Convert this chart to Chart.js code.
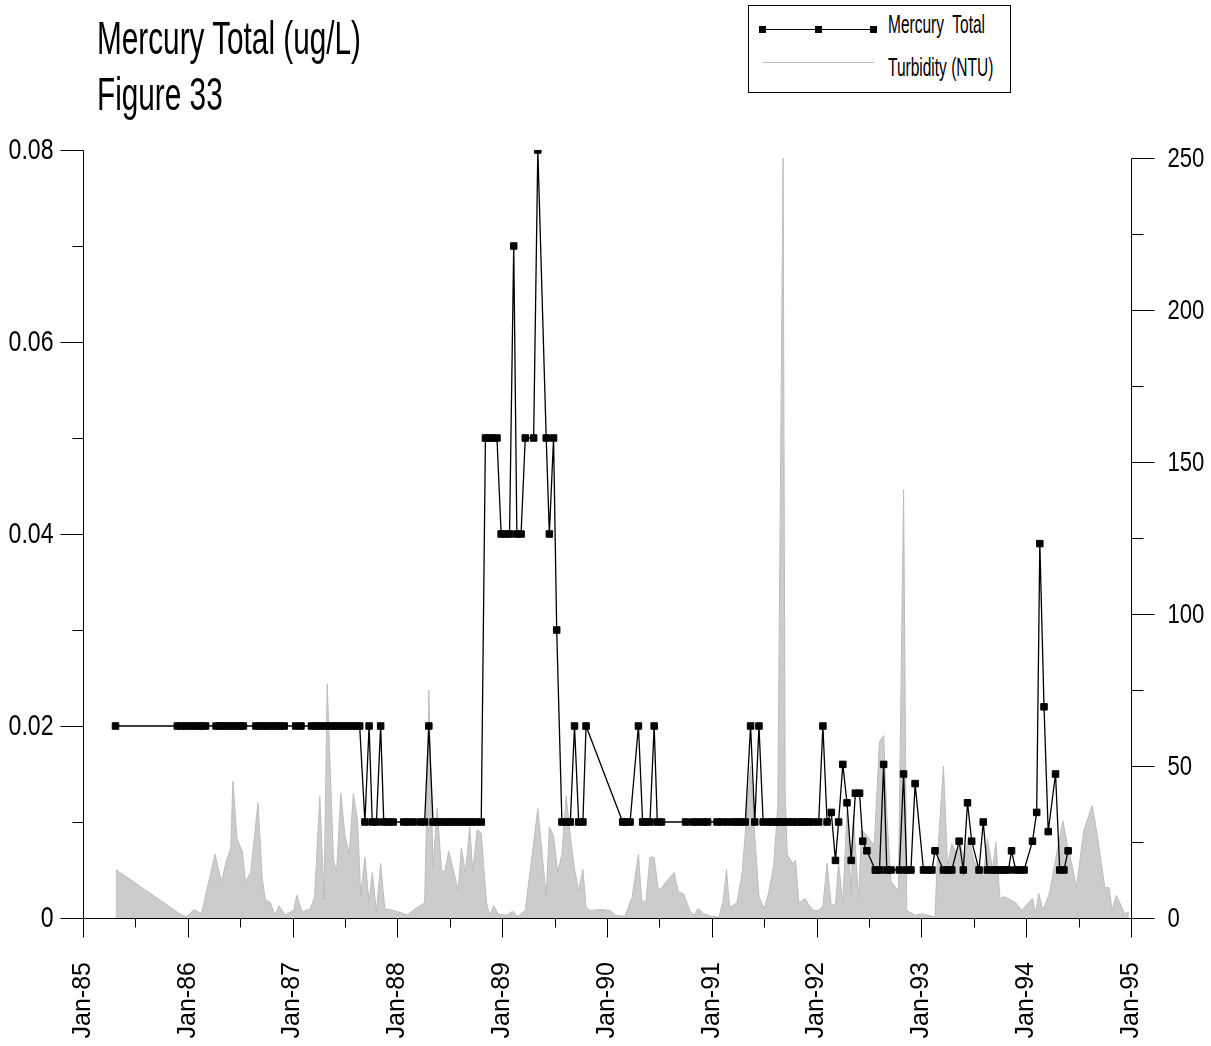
<!DOCTYPE html>
<html lang="en">
<head>
  <meta charset="UTF-8">
  <title>Mercury Total (ug/L) - Figure 33</title>
  <script src="https://cdn.jsdelivr.net/npm/chart.js"></script>
  <style>
    body { margin: 0; background: #fff; font-family: 'Liberation Sans', Arial, sans-serif; color: #000; }
    #wrap { position: relative; width: 1211px; height: 1046px; overflow: hidden; }
    canvas { position: absolute; left: 0; top: 0; }
    .title { position: absolute; left: 97px; top: 10px; font-size: 47px; line-height: 56px; white-space: nowrap; transform: scaleX(0.633); transform-origin: 0 0; }
    #legend { position: absolute; left: 748px; top: 5px; width: 263px; height: 88px; border: 1px solid #000; box-sizing: border-box; background: #fff; }
    #legend .ln { position: absolute; left: 14px; width: 111px; height: 0; }
    #legend .hg { top: 23px; border-top: 1.5px solid #000; }
    #legend .tb { top: 56px; border-top: 1px solid #bdbdbd; }
    #legend .sq { position: absolute; top: 20px; width: 7px; height: 7px; background: #000; }
    #legend .txt { position: absolute; left: 139px; font-size: 25px; line-height: 25px; white-space: nowrap; transform: scaleX(0.62); transform-origin: 0 0; }
  </style>
</head>
<body>
<div id="wrap">
  <canvas id="chart" width="1211" height="1046"></canvas>
  <div class="title">Mercury Total (ug/L)<br>Figure 33</div>
  <div id="legend">
    <div class="ln hg"></div>
    <div class="sq" style="left:10px"></div>
    <div class="sq" style="left:66px"></div>
    <div class="sq" style="left:121px"></div>
    <div class="txt" style="top:6px">Mercury&nbsp; Total</div>
    <div class="ln tb"></div>
    <div class="txt" style="top:49px">Turbidity (NTU)</div>
  </div>
</div>

<script>
  // sample dates as decimal years
  const hgDates = [
    1985.31,
    1985.90, 1985.94, 1985.98, 1986.02, 1986.06, 1986.10, 1986.13, 1986.17,
    1986.27, 1986.31, 1986.34, 1986.38, 1986.42, 1986.46, 1986.50, 1986.53,
    1986.65, 1986.69, 1986.73, 1986.76, 1986.80, 1986.84, 1986.88, 1986.92,
    1987.03, 1987.08,
    1987.18, 1987.22, 1987.26, 1987.30, 1987.34, 1987.38, 1987.41, 1987.45, 1987.49, 1987.53, 1987.57, 1987.60, 1987.64,
    1987.69, 1987.73, 1987.76, 1987.80, 1987.84, 1987.87, 1987.91, 1987.96,
    1988.06, 1988.10, 1988.15, 1988.22, 1988.26, 1988.30, 1988.34,
    1988.37, 1988.41, 1988.45, 1988.48, 1988.52, 1988.56, 1988.60, 1988.64, 1988.67, 1988.71, 1988.75, 1988.80,
    1988.84, 1988.87, 1988.91, 1988.95,
    1988.99, 1989.03, 1989.07, 1989.11, 1989.14, 1989.18, 1989.22, 1989.30, 1989.34, 1989.42, 1989.45, 1989.49, 1989.52,
    1989.57, 1989.61, 1989.65, 1989.69, 1989.73, 1989.77, 1989.80,
    1990.15, 1990.18, 1990.22, 1990.30, 1990.34, 1990.37, 1990.41, 1990.45, 1990.48, 1990.52,
    1990.75, 1990.82, 1990.87, 1990.92, 1990.96,
    1991.05, 1991.10, 1991.15, 1991.21, 1991.24, 1991.28, 1991.32, 1991.37, 1991.41, 1991.45, 1991.49,
    1991.54, 1991.58, 1991.62, 1991.65, 1991.69, 1991.73, 1991.77, 1991.81, 1991.85, 1991.88, 1991.92, 1991.96,
    1992.02, 1992.06, 1992.10, 1992.14, 1992.18, 1992.21, 1992.25, 1992.29, 1992.33, 1992.37, 1992.41, 1992.44, 1992.48,
    1992.56, 1992.60, 1992.64, 1992.67, 1992.71, 1992.79, 1992.83, 1992.86, 1992.90, 1992.94,
    1993.02, 1993.06, 1993.10, 1993.13, 1993.21, 1993.25, 1993.29, 1993.36, 1993.40, 1993.44, 1993.48,
    1993.55, 1993.59, 1993.63, 1993.68, 1993.72, 1993.76, 1993.79, 1993.83, 1993.86, 1993.90, 1993.94, 1993.98,
    1994.06, 1994.10, 1994.13, 1994.17, 1994.21, 1994.28, 1994.32, 1994.36, 1994.40
  ];
  const hgValues = [
    0.02,
    0.02, 0.02, 0.02, 0.02, 0.02, 0.02, 0.02, 0.02,
    0.02, 0.02, 0.02, 0.02, 0.02, 0.02, 0.02, 0.02,
    0.02, 0.02, 0.02, 0.02, 0.02, 0.02, 0.02, 0.02,
    0.02, 0.02,
    0.02, 0.02, 0.02, 0.02, 0.02, 0.02, 0.02, 0.02, 0.02, 0.02, 0.02, 0.02, 0.02,
    0.01, 0.02, 0.01, 0.01, 0.02, 0.01, 0.01, 0.01,
    0.01, 0.01, 0.01, 0.01, 0.01, 0.02, 0.01,
    0.01, 0.01, 0.01, 0.01, 0.01, 0.01, 0.01, 0.01, 0.01, 0.01, 0.01, 0.01,
    0.05, 0.05, 0.05, 0.05,
    0.04, 0.04, 0.04, 0.07, 0.04, 0.04, 0.05, 0.05, 0.08, 0.05, 0.04, 0.05, 0.03,
    0.01, 0.01, 0.01, 0.02, 0.01, 0.01, 0.02,
    0.01, 0.01, 0.01, 0.02, 0.01, 0.01, 0.01, 0.02, 0.01, 0.01,
    0.01, 0.01, 0.01, 0.01, 0.01,
    0.01, 0.01, 0.01, 0.01, 0.01, 0.01, 0.01, 0.02, 0.01, 0.02, 0.01,
    0.01, 0.01, 0.01, 0.01, 0.01, 0.01, 0.01, 0.01, 0.01, 0.01, 0.01, 0.01,
    0.01, 0.02, 0.01, 0.011, 0.006, 0.01, 0.016, 0.012, 0.006, 0.013, 0.013, 0.008, 0.007,
    0.005, 0.005, 0.016, 0.005, 0.005, 0.005, 0.015, 0.005, 0.005, 0.014,
    0.005, 0.005, 0.005, 0.007, 0.005, 0.005, 0.005, 0.008, 0.005, 0.012, 0.008,
    0.005, 0.01, 0.005, 0.005, 0.005, 0.005, 0.005, 0.005, 0.007, 0.005, 0.005, 0.005,
    0.008, 0.011, 0.039, 0.022, 0.009, 0.015, 0.005, 0.005, 0.007
  ];

  const turbDates = [
    1985.31, 1985.94, 1985.99, 1986.06, 1986.13, 1986.26, 1986.32, 1986.37, 1986.41, 1986.43,
    1986.47, 1986.52, 1986.55, 1986.60, 1986.67, 1986.71, 1986.74, 1986.79, 1986.83, 1986.87,
    1986.93, 1987.01, 1987.04, 1987.09, 1987.17, 1987.21, 1987.26, 1987.30, 1987.33, 1987.39,
    1987.42, 1987.46, 1987.50, 1987.54, 1987.58, 1987.62, 1987.65, 1987.69, 1987.73, 1987.76,
    1987.80, 1987.84, 1987.88, 1987.96, 1988.10, 1988.15, 1988.26, 1988.28, 1988.30, 1988.34,
    1988.38, 1988.42, 1988.45, 1988.49, 1988.58, 1988.61, 1988.65, 1988.69, 1988.72, 1988.76,
    1988.80, 1988.85, 1988.88, 1988.92, 1988.96, 1989.04, 1989.10, 1989.15, 1989.22, 1989.34,
    1989.42, 1989.45, 1989.49, 1989.53, 1989.57, 1989.61, 1989.65, 1989.69, 1989.73, 1989.77,
    1989.80, 1989.84, 1989.94, 1990.03, 1990.08, 1990.17, 1990.24, 1990.30, 1990.33, 1990.37,
    1990.41, 1990.45, 1990.49, 1990.52, 1990.64, 1990.68, 1990.73, 1990.79, 1990.83, 1990.87,
    1990.92, 1991.00, 1991.07, 1991.11, 1991.14, 1991.17, 1991.24, 1991.29, 1991.34, 1991.37,
    1991.41, 1991.45, 1991.50, 1991.54, 1991.59, 1991.63, 1991.68, 1991.70, 1991.72, 1991.77,
    1991.80, 1991.83, 1991.89, 1991.92, 1991.97, 1992.02, 1992.06, 1992.10, 1992.14, 1992.18,
    1992.21, 1992.25, 1992.29, 1992.33, 1992.35, 1992.40, 1992.43, 1992.48, 1992.55, 1992.60,
    1992.64, 1992.67, 1992.71, 1992.78, 1992.83, 1992.86, 1992.94, 1993.01, 1993.13, 1993.15,
    1993.21, 1993.25, 1993.29, 1993.34, 1993.37, 1993.41, 1993.45, 1993.50, 1993.55, 1993.60,
    1993.63, 1993.68, 1993.71, 1993.75, 1993.79, 1993.85, 1993.90, 1993.96, 1994.01, 1994.06,
    1994.09, 1994.12, 1994.16, 1994.22, 1994.30, 1994.35, 1994.39, 1994.44, 1994.48, 1994.55,
    1994.63, 1994.68, 1994.75, 1994.79, 1994.82, 1994.86, 1994.94, 1994.98
  ];
  const turbValues = [
    16, 1, 0.5, 2.8, 1.4, 21, 12, 19, 23, 45,
    26, 22, 12, 15, 38, 13, 6, 5, 1, 4,
    1, 2.5, 7.5, 2, 3, 7, 40, 6, 77, 19,
    15, 41, 27, 21, 41, 32, 7.5, 20, 5, 15,
    2, 18, 3, 2.5, 1, 2.5, 5, 36, 75, 17,
    36, 16, 15, 22, 9, 23, 15, 30, 15, 29,
    28, 5, 1, 4, 1.4, 0.9, 2.2, 0.5, 2.5, 36,
    7, 30, 27, 15, 21, 40, 27, 16, 9, 16,
    3.5, 2.5, 2.8, 2.5, 0.9, 0.5, 7, 21, 6, 5,
    20, 20, 9, 10, 15, 8.6, 8, 2.5, 0.9, 3.2,
    1.4, 0.5, 0.3, 6, 16, 3.5, 5, 15, 37, 50,
    27, 7, 3, 8, 17, 37, 250, 41, 21, 18,
    19, 5, 6.4, 4.6, 2.5, 2.5, 4, 18, 4, 4.6,
    18, 5, 35, 7, 34, 6.4, 29, 27, 24, 58,
    60, 34, 12, 9, 141, 2.5, 0.9, 1.4, 0.3, 18,
    50, 17, 24.5, 21, 24.5, 19, 27, 19, 16, 17,
    26, 16, 25, 6.4, 7, 6, 5, 2.5, 4.6, 6.4,
    1.4, 8, 2.5, 8, 23, 32, 24.5, 17, 10, 29,
    37, 27, 10, 10, 2.5, 7.5, 1.4, 2
  ];

  const xLabels = ['Jan-85', 'Jan-86', 'Jan-87', 'Jan-88', 'Jan-89', 'Jan-90',
                   'Jan-91', 'Jan-92', 'Jan-93', 'Jan-94', 'Jan-95'];
  const leftLabels = ['0', '0.02', '0.04', '0.06', '0.08'];
  const rightLabels = ['0', '50', '100', '150', '200', '250'];

  const isStep = (v, s) => Math.abs(v / s - Math.round(v / s)) < 1e-6;

  // condensed value labels: no narrow font installed, so squeeze horizontally
  function squeezedText(ctx, text, x, y, align, sx, font) {
    ctx.save();
    ctx.translate(x, y);
    ctx.scale(sx, 1);
    ctx.font = font;
    ctx.fillStyle = '#000';
    ctx.textAlign = align;
    ctx.textBaseline = 'middle';
    ctx.fillText(text, 0, 1);
    ctx.restore();
  }

  // axis lines, tick marks (long on labelled ticks, short in between), y labels
  const axisMarks = {
    id: 'axisMarks',
    afterDatasetsDraw(chart) {
      const { ctx } = chart;
      const { x, yL, yR } = chart.scales;
      const by = Math.round(yL.getPixelForValue(0)) + 0.5;
      const lx = Math.round(x.getPixelForValue(x.min)) + 0.5;
      const rx = Math.round(x.getPixelForValue(x.max)) + 0.5;
      ctx.save();
      ctx.strokeStyle = '#000';
      ctx.lineWidth = 1;
      ctx.beginPath();
      ctx.moveTo(lx, by); ctx.lineTo(rx, by);
      x.ticks.forEach(t => {
        const px = Math.round(x.getPixelForValue(t.value)) + 0.5;
        ctx.moveTo(px, by); ctx.lineTo(px, by + (isStep(t.value, 1) ? 19 : 9));
      });
      ctx.moveTo(lx, by); ctx.lineTo(lx, Math.round(yL.getPixelForValue(0.08)) + 0.5);
      yL.ticks.forEach(t => {
        const py = Math.round(yL.getPixelForValue(t.value)) + 0.5;
        ctx.moveTo(lx, py); ctx.lineTo(lx - (isStep(t.value, 0.02) ? 23 : 11), py);
      });
      ctx.moveTo(rx, by); ctx.lineTo(rx, Math.round(yR.getPixelForValue(250)) + 0.5);
      yR.ticks.forEach(t => {
        const py = Math.round(yR.getPixelForValue(t.value)) + 0.5;
        ctx.moveTo(rx, py); ctx.lineTo(rx + (isStep(t.value, 50) ? 23 : 12), py);
      });
      ctx.stroke();
      ctx.restore();

      yL.ticks.forEach(t => {
        if (!isStep(t.value, 0.02)) return;
        squeezedText(ctx, leftLabels[Math.round(t.value / 0.02)], lx - 30, yL.getPixelForValue(t.value),
          'right', 0.77, '30px "Liberation Sans"');
      });
      yR.ticks.forEach(t => {
        if (!isStep(t.value, 50)) return;
        squeezedText(ctx, rightLabels[Math.round(t.value / 50)], rx + 36, yR.getPixelForValue(t.value),
          'left', 0.79, '28px "Liberation Sans"');
      });
    }
  };

  new Chart(document.getElementById('chart'), {
    type: 'line',
    data: {
      datasets: [
        {
          label: 'Mercury Total',
          data: hgDates.map((d, i) => ({ x: d, y: hgValues[i] })),
          yAxisID: 'yL',
          borderColor: '#000',
          borderWidth: 1.3,
          pointStyle: 'rect',
          pointRadius: 4.6,
          pointBackgroundColor: '#000',
          pointBorderColor: '#000',
          pointBorderWidth: 1,
          tension: 0,
          fill: false,
          order: 1
        },
        {
          label: 'Turbidity (NTU)',
          data: turbDates.map((d, i) => ({ x: d, y: turbValues[i] })),
          yAxisID: 'yR',
          borderColor: '#bdbdbd',
          borderWidth: 1,
          backgroundColor: '#cccccc',
          pointRadius: 0,
          tension: 0,
          fill: 'origin',
          order: 2
        }
      ]
    },
    options: {
      responsive: false,
      animation: false,
      layout: { padding: { top: 150, left: 0, right: 0, bottom: 0 } },
      plugins: { legend: { display: false }, title: { display: false }, tooltip: { enabled: false } },
      scales: {
        x: {
          type: 'linear',
          position: 'bottom',
          min: 1985,
          max: 1995,
          grid: { display: false, drawTicks: false },
          border: { display: false },
          afterFit: s => { s.height = 128; },
          ticks: {
            stepSize: 0.5,
            autoSkip: false,
            minRotation: 90,
            maxRotation: 90,
            padding: 44,
            color: '#000',
            font: { family: 'Liberation Sans', size: 25 },
            callback: v => isStep(v, 1) ? xLabels[Math.round(v) - 1985] : ''
          }
        },
        yL: {
          type: 'linear',
          position: 'left',
          min: 0,
          max: 0.08,
          grid: { display: false, drawTicks: false },
          border: { display: false },
          afterFit: s => { s.width = 83; },
          ticks: { stepSize: 0.01, autoSkip: false, display: false }
        },
        yR: {
          type: 'linear',
          position: 'right',
          min: 0,
          max: 252.63,
          grid: { display: false, drawTicks: false },
          border: { display: false },
          afterFit: s => { s.width = 80; },
          afterBuildTicks: s => { s.ticks = s.ticks.filter(t => isStep(t.value, 25)); },
          ticks: { stepSize: 25, autoSkip: false, includeBounds: false, display: false }
        }
      }
    },
    plugins: [axisMarks]
  });
</script>
</body>
</html>
